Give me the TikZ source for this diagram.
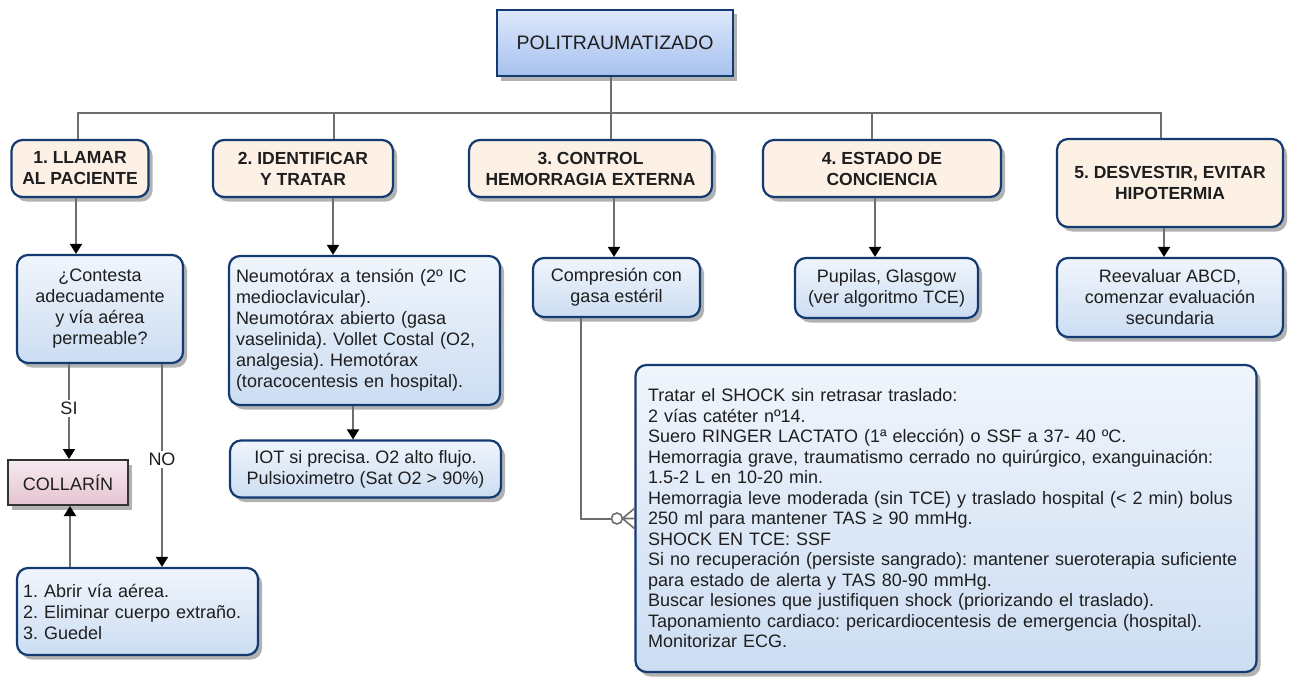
\documentclass[tikz,border=0pt]{standalone}
\usepackage{fontspec}
\setmainfont{Liberation Sans}
\frenchspacing
\usetikzlibrary{arrows.meta,shadows}
\definecolor{navy}{HTML}{143A72}
\definecolor{peach}{HTML}{FDF1E6}
\definecolor{lbtop}{HTML}{F0F5FC}
\definecolor{lbbot}{HTML}{CCDDF2}
\definecolor{ttop}{HTML}{DDE8FB}
\definecolor{tbot}{HTML}{A6C1EE}
\definecolor{ptop}{HTML}{F7EAF0}
\definecolor{pbot}{HTML}{E4C3D1}
\definecolor{linegray}{HTML}{6E6E6E}
\definecolor{txt}{HTML}{1E1E1E}
\tikzset{
  basebox/.style={draw=navy, line width=2.2pt, inner sep=0pt, align=center, text=txt,
    drop shadow={shadow xshift=4pt, shadow yshift=-4.5pt, fill=black!55, opacity=.55},
    font=\fontsize{18}{21}\selectfont},
  rbox/.style={basebox, rounded corners=11pt},
  headbox/.style={rbox, fill=peach, font=\bfseries\fontsize{17.5}{21}\selectfont},
  subbox/.style={rbox, top color=lbtop, bottom color=lbbot},
  topbox/.style={basebox, top color=ttop, bottom color=tbot, font=\fontsize{19.5}{22}\selectfont},
  collbox/.style={basebox, draw=black!80, line width=2pt, top color=ptop, bottom color=pbot},
  conn/.style={draw=linegray, line width=2pt},
  arr/.style={conn, -{Triangle[width=12pt,length=10pt,color=black]}},
  lbl/.style={fill=white, inner sep=2pt, text=txt, font=\fontsize{18}{21}\selectfont},
}
\begin{document}
\begin{tikzpicture}[x=1pt,y=-1pt]
\useasboundingbox[fill=white] (0,0) rectangle (1289,677);

% nodes
\node[topbox, minimum width=236, minimum height=66] (top) at (615,43) {POLITRAUMATIZADO};

\node[headbox, minimum width=137, minimum height=57] (h1) at (80,168.5) {1. LLAMAR\\AL PACIENTE};
\node[headbox, minimum width=180, minimum height=57] (h2) at (303,168.5) {2. IDENTIFICAR\\Y TRATAR};
\node[headbox, minimum width=243, minimum height=57] (h3) at (590.5,168.5) {3. CONTROL\\HEMORRAGIA EXTERNA};
\node[headbox, minimum width=238, minimum height=57] (h4) at (882,168.5) {4. ESTADO DE\\CONCIENCIA};
\node[headbox, minimum width=226, minimum height=88] (h5) at (1170,183) {5. DESVESTIR, EVITAR\\HIPOTERMIA};

\node[subbox, minimum width=166, minimum height=108] (q) at (100,309) {¿Contesta\\adecuadamente\\y vía aérea\\permeable?};
\node[collbox, minimum width=120, minimum height=45] (coll) at (68,482.5) {COLLARÍN};
\node[subbox, minimum width=241, minimum height=87, text width=229, inner xsep=6pt, align=left] (abrir) at (137.5,611.5) {1. Abrir vía aérea.\\2. Eliminar cuerpo extraño.\\3. Guedel};

\node[subbox, minimum width=271, minimum height=149, text width=257, inner xsep=7pt, align=left] (neu) at (364.5,330.5) {Neumotórax a tensión (2º IC\\medioclavicular).\\Neumotórax abierto (gasa\\vaselinida). Vollet Costal (O2,\\analgesia). Hemotórax\\(toracocentesis en hospital).};
\node[subbox, minimum width=271, minimum height=57] (iot) at (365.5,469) {IOT si precisa. O2 alto flujo.\\Pulsioximetro (Sat O2 > 90\%)};

\node[subbox, minimum width=167, minimum height=59] (comp) at (616.5,287.5) {Compresión con\\gasa estéril};
\node[subbox, minimum width=183, minimum height=60] (pup) at (886.5,288) {Pupilas, Glasgow\\(ver algoritmo TCE)};
\node[subbox, minimum width=226, minimum height=79] (reev) at (1170,297.5) {Reevaluar ABCD,\\comenzar evaluación\\secundaria};

\node[subbox, minimum width=621, minimum height=307, text width=596, inner xsep=12.5pt, align=left, font=\fontsize{18}{20.5}\selectfont] (shock) at (946,518.5) {Tratar el SHOCK sin retrasar traslado:\\
2 vías catéter nº14.\\
Suero RINGER LACTATO (1ª elección) o SSF a 37- 40 ºC.\\
Hemorragia grave, traumatismo cerrado no quirúrgico, exanguinación:\\
1.5-2 L en 10-20 min.\\
Hemorragia leve moderada (sin TCE) y traslado hospital (< 2 min) bolus\\
250 ml para mantener TAS ≥ 90 mmHg.\\
SHOCK EN TCE: SSF\\
Si no recuperación (persiste sangrado): mantener sueroterapia suficiente\\
para estado de alerta y TAS 80-90 mmHg.\\
Buscar lesiones que justifiquen shock (priorizando el traslado).\\
Taponamiento cardiaco: pericardiocentesis de emergencia (hospital).\\
Monitorizar ECG.};

% helper columns
\coordinate (bus) at (0,113);
\coordinate (c611) at (611,0);
\coordinate (c78) at (78,0);
\coordinate (c76) at (76,0);
\coordinate (c334) at (334,0);
\coordinate (c333) at (333,0);
\coordinate (c353) at (353,0);
\coordinate (c614) at (614,0);
\coordinate (c872) at (872,0);
\coordinate (c875) at (875,0);
\coordinate (c1161) at (1161,0);
\coordinate (c1164) at (1164,0);
\coordinate (c69) at (69,0);
\coordinate (c70) at (70,0);
\coordinate (c162) at (162,0);
\coordinate (c581) at (581,0);

% bus
\draw[conn] (top.south -| c611) -- (h3.north -| c611);
\draw[conn] (h1.north -| c78) |- (bus -| c1161) -- (h5.north -| c1161);
\draw[conn] (h2.north -| c334) -- (bus -| c334);
\draw[conn] (h4.north -| c872) -- (bus -| c872);

% arrows down
\draw[arr] (h1.south -| c76) -- (q.north -| c76);
\draw[arr] (h2.south -| c333) -- (neu.north -| c333);
\draw[arr] (h3.south -| c614) -- (comp.north -| c614);
\draw[arr] (h4.south -| c875) -- (pup.north -| c875);
\draw[arr] (h5.south -| c1164) -- (reev.north -| c1164);
\draw[arr] (neu.south -| c353) -- (iot.north -| c353);

% SI / NO
\draw[arr] (q.south -| c69) -- node[lbl, pos=.47] {SI} (coll.north -| c69);
\draw[arr] (q.south -| c162) -- node[lbl, pos=.47] {NO} (abrir.north -| c162);
\draw[arr] (abrir.north -| c70) -- (coll.south -| c70);

% compresion -> shock with crow's foot
\draw[conn] (comp.south -| c581) |- ([xshift=-23pt]shock.west);
\draw[conn, line width=1.6pt, fill=white] ([xshift=-17.5pt]shock.west) circle[radius=5.5];
\draw[conn, line width=1.6pt] ([xshift=-12pt]shock.west) -- ([yshift=-10pt]shock.west)
      ([xshift=-12pt]shock.west) -- (shock.west)
      ([xshift=-12pt]shock.west) -- ([yshift=10pt]shock.west);
\end{tikzpicture}
\end{document}
